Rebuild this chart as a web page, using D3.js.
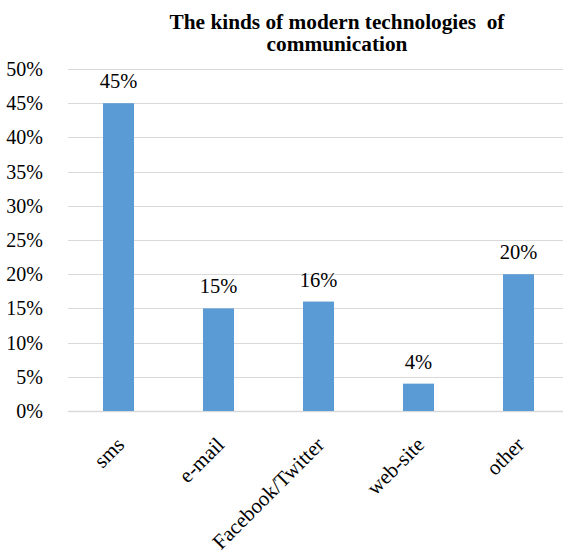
<!DOCTYPE html>
<html>
<head>
<meta charset="utf-8">
<script src="https://cdn.jsdelivr.net/npm/d3@7"></script>
<style>
  body { margin: 0; background: #fff; }
</style>
</head>
<body>
<svg id="chart" width="563" height="550"></svg>
<script>
const categories = ["sms", "e-mail", "Facebook/Twitter", "web-site", "other"];
const values = [45, 15, 16, 4, 20];
const yTicks = [0, 5, 10, 15, 20, 25, 30, 35, 40, 45, 50];
const titleLines = ["The kinds of modern technologies  of", "communication"];

const svg = d3.select("#chart");
const W = 563;
const FONT = "'Liberation Serif'";

const x = d3.scaleBand()
  .domain(categories)
  .range([68.5, 568.5])
  .paddingInner(0.69)
  .paddingOuter(0.345);

const y = d3.scaleLinear().domain([0, 50]).range([411, 69]);

// gridlines
svg.append("g").selectAll("line")
  .data(yTicks)
  .join("line")
  .attr("x1", 68).attr("x2", W)
  .attr("y1", d => Math.round(y(d)) + 0.5)
  .attr("y2", d => Math.round(y(d)) + 0.5)
  .attr("stroke", "#d9d9d9")
  .attr("stroke-width", d => d === 0 ? 1.5 : 1);

// y tick labels
svg.append("g").selectAll("text")
  .data(yTicks)
  .join("text")
  .attr("font-family", FONT)
  .attr("x", 43)
  .attr("y", d => y(d))
  .attr("dy", "0.35em")
  .attr("text-anchor", "end")
  .attr("font-size", 20)
  .text(d => d + "%");

// bars
svg.append("g").selectAll("rect")
  .data(values)
  .join("rect")
  .attr("x", (d, i) => x(categories[i]))
  .attr("width", x.bandwidth())
  .attr("y", d => y(d))
  .attr("height", d => y(0) - y(d))
  .attr("fill", "#5b9bd5");

// value labels
svg.append("g").selectAll("text")
  .data(values)
  .join("text")
  .attr("font-family", FONT)
  .attr("x", (d, i) => x(categories[i]) + x.bandwidth() / 2)
  .attr("y", d => y(d) - 15)
  .attr("text-anchor", "middle")
  .attr("font-size", 20.5)
  .text(d => d + "%");

// category labels
svg.append("g").selectAll("text")
  .data(categories)
  .join("text")
  .attr("font-family", FONT)
  .attr("transform", d => `translate(${x(d) + x.bandwidth() / 2 + 7},${446}) rotate(-45)`)
  .attr("text-anchor", "end")
  .attr("font-size", 21)
  .text(d => d);

// title
svg.append("g").selectAll("text")
  .data(titleLines)
  .join("text")
  .attr("font-family", FONT)
  .attr("x", 337)
  .attr("y", (d, i) => 29 + i * 22)
  .attr("text-anchor", "middle")
  .attr("font-size", 21.3)
  .attr("font-weight", "bold")
  .style("white-space", "pre")
  .text(d => d);
</script>
</body>
</html>
